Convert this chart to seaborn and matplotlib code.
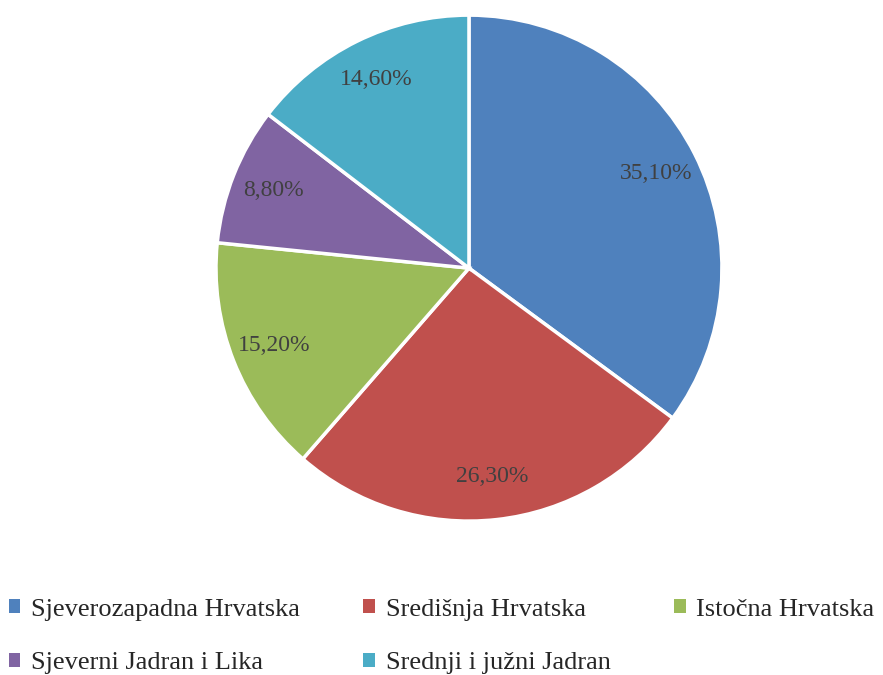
import matplotlib
matplotlib.use("Agg")
import matplotlib.pyplot as plt
import seaborn as sns
from matplotlib.patches import Patch

sns.set_theme(style="white")
plt.rcParams['font.family'] = ['Liberation Serif', 'DejaVu Serif']

# data
regions = ['Sjeverozapadna Hrvatska', 'Središnja Hrvatska', 'Istočna Hrvatska',
           'Sjeverni Jadran i Lika', 'Srednji i južni Jadran']
shares = [35.1, 26.3, 15.2, 8.8, 14.6]
colors = ['#4F81BD', '#C0504D', '#9BBB59', '#8064A2', '#4BACC6']

fig = plt.figure(figsize=(8.83, 6.75), dpi=100)
ax = fig.add_axes([0.2446, 0.228, 0.573, 0.7496])

wedges, texts, autotexts = ax.pie(
    shares, colors=colors, startangle=90, counterclock=False,
    autopct=lambda p: f'{p:.2f}%'.replace('.', ','), pctdistance=0.83,
    wedgeprops=dict(edgecolor='white', linewidth=2.5),
    textprops=dict(color='#404040', fontsize=17))
ax.set_xlim(-1, 1)
ax.set_ylim(-1, 1)
ax.set_aspect('equal')

# legend: row-wise order (3 + 2)
handles = [Patch(facecolor=c, edgecolor='none') for c in colors]
order = [0, 3, 1, 4, 2]
fig.legend([handles[i] for i in order], [regions[i] for i in order],
           ncol=3, loc='lower center', bbox_to_anchor=(0.5, -0.034),
           frameon=False, fontsize=19, handlelength=0.45, handleheight=0.45,
           handletextpad=0.4, columnspacing=2.4, labelspacing=1.2)

fig.savefig('out.png', dpi=100)
